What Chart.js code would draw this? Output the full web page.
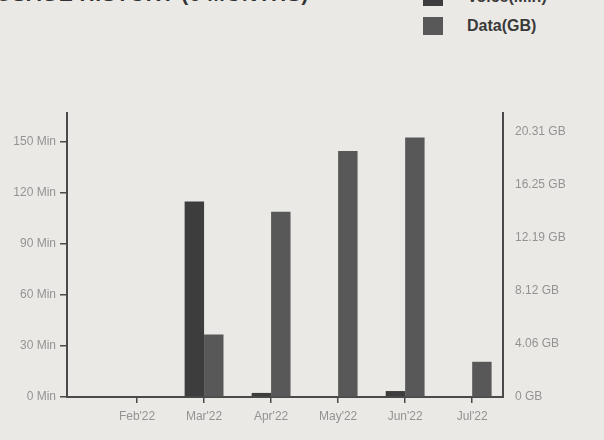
<!DOCTYPE html>
<html>
<head>
<meta charset="utf-8">
<script src="https://cdn.jsdelivr.net/npm/chart.js@4.4.1/dist/chart.umd.min.js"></script>
<style>
  html, body { margin: 0; padding: 0; }
  body { width: 604px; height: 440px; overflow: hidden; position: relative;
         background: #ebe9e6; font-family: "Liberation Sans", Arial, sans-serif; }
  #title { position: absolute; left: -4px; top: -18px; font-size: 21px; font-weight: bold;
           color: #333; white-space: nowrap; letter-spacing: 0.5px; }
  #legend { position: absolute; left: 423px; top: -12px; }
  .item { height: 29px; display: flex; align-items: flex-start; }
  .box { width: 20px; height: 18px; margin-right: 24px; }
  .item span { font-size: 16px; font-weight: bold; color: #3a3a3a; line-height: 18px; }
  #wrap { position: absolute; left: 0; top: 0; width: 604px; height: 440px; }
</style>
</head>
<body>
<div id="title">USAGE HISTORY (6 MONTHS)</div>
<div id="legend"></div>
<div id="wrap"><canvas id="usageChart"></canvas></div>
<script>
  const months = ["Feb'22", "Mar'22", "Apr'22", "May'22", "Jun'22", "Jul'22"];
  const voiceMin = [0, 115, 2.4, 0, 3.5, 0];
  const dataGB = [0, 4.8, 14.2, 18.85, 19.9, 2.7];
  const leftTicks = [0, 30, 60, 90, 120, 150];
  const rightTicks = [0, 4.062, 8.124, 12.186, 16.248, 20.31];

  const voiceColor = '#3d3d3d';
  const dataColor = '#585858';
  const axisColor = '#4a4a4a';
  const labelColor = '#939393';
  const tickFont = { family: 'Liberation Sans', size: 12 };

  const legend = document.getElementById('legend');
  [['Voice(Min)', voiceColor], ['Data(GB)', dataColor]].forEach(([name, color]) => {
    const row = document.createElement('div');
    row.className = 'item';
    row.innerHTML = '<div class="box" style="background:' + color + '"></div><span>' + name + '</span>';
    legend.appendChild(row);
  });

  const ctx = document.getElementById('usageChart').getContext('2d');

  new Chart(ctx, {
    type: 'bar',
    data: {
      datasets: [
        {
          label: 'Voice(Min)',
          data: voiceMin.map((v, i) => ({ x: i + 1, y: v })),
          backgroundColor: voiceColor,
          yAxisID: 'y'
        },
        {
          label: 'Data(GB)',
          data: dataGB.map((v, i) => ({ x: i + 1, y: v })),
          backgroundColor: dataColor,
          yAxisID: 'y1'
        }
      ]
    },
    options: {
      responsive: true,
      maintainAspectRatio: false,
      animation: false,
      categoryPercentage: 0.58,
      barPercentage: 1.0,
      layout: { padding: { top: 113, left: 0, right: 0, bottom: 0 } },
      plugins: {
        legend: { display: false },
        tooltip: { enabled: false }
      },
      scales: {
        x: {
          type: 'linear',
          offset: false,
          min: -0.045,
          max: 6.46,
          afterBuildTicks: s => { s.ticks = months.map((m, i) => ({ value: i + 1 })); },
          afterFit: s => { s.height = 43; },
          ticks: {
            callback: v => months[v - 1] || '',
            color: labelColor,
            font: tickFont,
            padding: 6,
            maxRotation: 0,
            autoSkip: false
          },
          grid: { offset: false, drawOnChartArea: false, drawTicks: true, tickLength: 6, color: axisColor, lineWidth: 1.5 },
          border: { display: true, color: axisColor, width: 2 }
        },
        y: {
          position: 'left',
          min: 0,
          max: 167,
          afterBuildTicks: s => { s.ticks = leftTicks.map(v => ({ value: v })); },
          afterFit: s => { s.width = 67; },
          ticks: {
            callback: v => v + ' Min',
            color: labelColor,
            font: tickFont,
            padding: 4
          },
          grid: { drawOnChartArea: false, drawTicks: true, tickLength: 7, color: axisColor, lineWidth: 1.5 },
          border: { display: true, color: axisColor, width: 2 }
        },
        y1: {
          position: 'right',
          min: 0,
          max: 21.77,
          afterBuildTicks: s => { s.ticks = rightTicks.map(v => ({ value: v })); },
          afterFit: s => { s.width = 101; },
          ticks: {
            callback: v => (v === 0 ? '0' : v.toFixed(2)) + ' GB',
            color: labelColor,
            font: tickFont,
            padding: 12
          },
          grid: { drawOnChartArea: false, drawTicks: false, color: axisColor },
          border: { display: true, color: axisColor, width: 2 }
        }
      }
    }
  });
</script>
</body>
</html>
